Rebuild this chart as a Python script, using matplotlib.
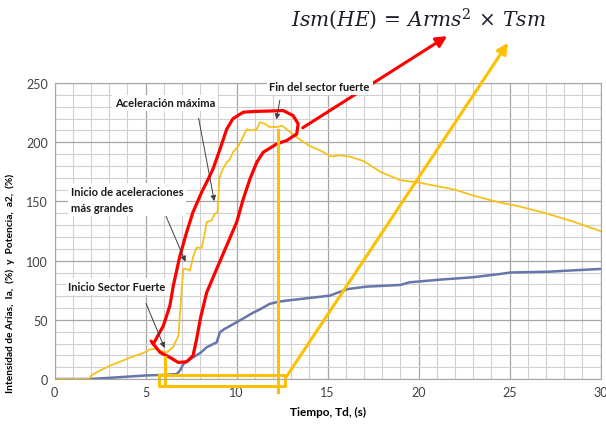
import matplotlib
matplotlib.use('Agg')
import matplotlib.pyplot as plt
from matplotlib.ticker import MultipleLocator

# Potencia a2 (%) - yellow curve
t_pot = [0, 1.9, 2.0, 2.3, 2.6, 3.04, 3.5, 3.96, 4.3, 4.69, 5.0, 5.24, 5.5, 5.8, 6.15, 6.5, 6.8,
         6.98, 7.07, 7.25, 7.43, 7.62, 7.8, 8.08, 8.26, 8.35, 8.62, 8.8, 8.95, 9.05, 9.2, 9.45, 9.6,
         9.8, 10.1, 10.3, 10.55, 10.8, 11.1, 11.28, 11.5, 11.8, 12.2, 12.5, 13.0, 13.5, 14.0, 14.6,
         15.2, 15.7, 16.2, 17.0, 17.9, 19.0, 20.0, 21.0, 22.0, 23.0, 24.5, 25.5, 27.0, 28.5, 30.0]
a2 = [0, 0, 3, 5.6, 8, 11.3, 14, 17, 19, 21, 23, 25, 25.5, 24, 22.5, 26.8, 36.6,
      76, 93, 93, 91.5, 104, 111, 111, 124, 132.5, 134, 139.5, 141, 170, 176, 183, 185,
      191.6, 197, 203, 211, 210, 211, 217, 216, 213, 212.8, 214, 208, 202, 197, 193,
      188, 189, 188, 184, 175, 168, 166, 163, 160, 155, 149, 146, 140, 133, 125]

# Intensidad de Arias Ia (%) - blue curve
t_ia = [0, 1.9, 3.0, 4.0, 5.0, 6.0, 6.5, 6.7, 6.88, 7.07, 7.6, 8.0, 8.35, 8.9, 9.08, 9.3, 10.0,
        10.9, 11.3, 11.8, 12.2, 12.6, 13.5, 15.1, 16.1, 17.1, 19.0, 19.5, 21.2, 23.0, 24.5, 25.05,
        27.2, 28.1, 30.0]
ia = [0, 0, 1, 2, 3, 3.5, 4, 4.2, 7, 12.7, 18.3, 22, 26.8, 31, 39.5, 42, 48,
      56, 59, 63.4, 65, 66, 67.6, 70.4, 76, 78, 79.5, 81.7, 84, 86, 88.8, 90,
      90.7, 91.5, 93]

# hand-drawn red loop around the strong-motion rise
loop_x = [5.42, 5.79, 6.33, 6.79, 7.25, 7.6, 7.8, 8.0, 8.35, 8.9, 9.45, 10.0, 10.36, 10.73, 11.1,
          11.46, 12.2, 12.75, 13.3, 13.38, 13.1, 12.56, 10.9, 10.36, 9.8, 9.45, 9.08, 8.7, 8.44,
          8.08, 7.6, 7.25, 6.88, 6.52, 6.33, 5.97, 5.42, 5.3]
loop_y = [29.6, 22.5, 18.3, 14, 14.6, 19.7, 33.8, 50.7, 73, 93, 112.7, 132.5, 152, 169, 183,
          191.6, 198.6, 201.5, 207, 215.6, 222.6, 226.8, 226, 225.4, 220, 211, 194, 177.5, 169,
          158, 141, 124, 104, 79, 62, 45, 29.6, 32]

# yellow box marking the strong-motion duration
box_x = [5.73, 12.65, 12.65, 5.73, 5.73]
box_y = [3.4, 3.4, -6.2, -6.2, 3.4]

notes = [
    ('Aceleración máxima', (7.88, 222.6), (8.8, 148), (3.3, 238)),
    ('Inicio de aceleraciones\nmás grandes', (6.06, 139.5), (7.25, 97), (0.9, 163)),
    ('Inicio Sector Fuerte', (4.96, 66), (6.1, 24), (0.75, 83)),
    ('Fin del sector fuerte', (12.4, 238), (12.16, 217), (11.8, 252)),
]

plt.rcParams['font.family'] = ['Lato', 'DejaVu Sans']

fig = plt.figure(figsize=(6.06, 4.27), dpi=100)
ax = fig.add_axes([0.0903, 0.110, 0.9007, 0.693])

ax.set_xlim(0, 30)
ax.set_ylim(0, 250)
ax.xaxis.set_major_locator(MultipleLocator(5))
ax.xaxis.set_minor_locator(MultipleLocator(1))
ax.yaxis.set_major_locator(MultipleLocator(50))
ax.yaxis.set_minor_locator(MultipleLocator(10))
ax.grid(which='major', color='#a6a6a6', linewidth=0.9)
ax.grid(which='minor', color='#d0d0d0', linewidth=0.8)
ax.set_axisbelow(True)
ax.tick_params(which='both', length=0, labelsize=9, colors='#404040', pad=5)
for s in ax.spines.values():
    s.set_color('#a6a6a6')

ax.plot(t_ia, ia, color='#6676aa', linewidth=1.8)
ax.plot(t_pot, a2, color='#f5c21b', linewidth=1.3)

# overlay markings
ax.plot(loop_x, loop_y, color='#ff0000', linewidth=2.3, clip_on=False,
        solid_joinstyle='round', solid_capstyle='round')
ax.plot(box_x, box_y, color='#ffc000', linewidth=2.2, clip_on=False)
ax.plot([6.06, 6.06], [19, -6.2], color='#ffc000', linewidth=2.2, clip_on=False)
ax.plot([12.25, 12.25], [210, -11.3], color='#ffc000', linewidth=2.2, clip_on=False)

ax.annotate('', xy=(21.7, 291), xytext=(13.5, 211),
            arrowprops=dict(arrowstyle='-|>', color='#ff0000', lw=2.2, mutation_scale=16),
            annotation_clip=False)
ax.annotate('', xy=(25.0, 286), xytext=(12.65, 0),
            arrowprops=dict(arrowstyle='-|>', color='#ffc000', lw=2.2, mutation_scale=16),
            annotation_clip=False)

for text, start, end, pos in notes:
    ax.annotate('', xy=end, xytext=start,
                arrowprops=dict(arrowstyle='-|>', color='#404040', lw=0.7, mutation_scale=8))
    ax.text(pos[0], pos[1], text, fontsize=8, fontweight='bold', color='#1a1a1a',
            va='top', ha='left', linespacing=1.55,
            bbox=dict(facecolor='white', edgecolor='none', pad=2))

ax.set_xlabel('Tiempo, Td, (s)', fontsize=8.5, fontweight='bold', labelpad=6)
ax.set_ylabel('Intensidad de Arías,  Ia,  (%)  y  Potencia,  a2,  (%)',
              fontsize=7.3, fontweight='bold')
ax.yaxis.set_label_coords(-0.072, 0.325)

fig.text(0.69, 0.955, r'$Ism(HE)\,=\,Arms^{2}\,\times\,Tsm$', fontsize=14.5,
         color='#1c1c2a', ha='center', va='center', family='DejaVu Serif',
         math_fontfamily='dejavuserif')

fig.savefig('out.png', dpi=100)
plt.close(fig)
